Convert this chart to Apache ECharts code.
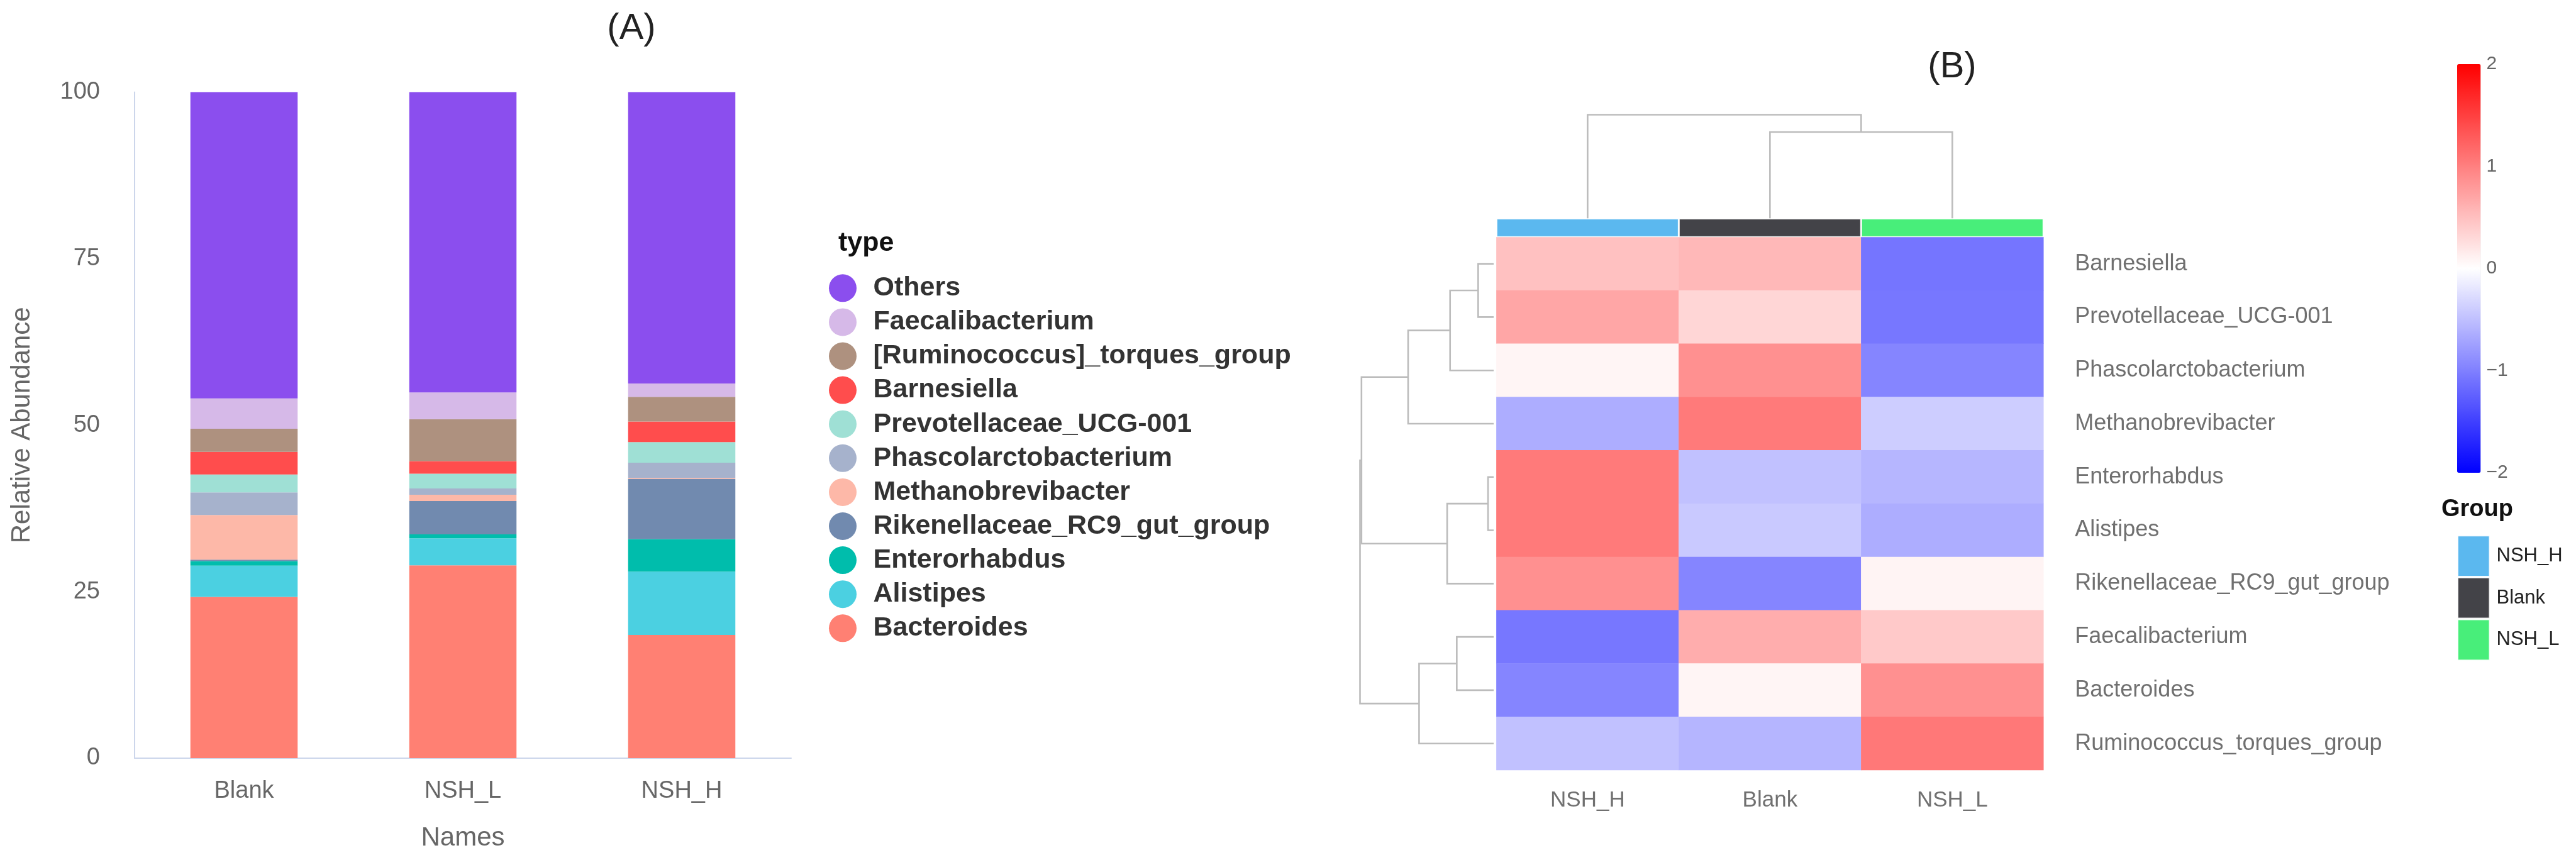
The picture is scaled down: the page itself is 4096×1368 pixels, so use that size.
<!DOCTYPE html>
<html><head><meta charset="utf-8">
<script src="https://cdn.jsdelivr.net/npm/echarts@6/dist/echarts.min.js"></script>
<style>html,body{margin:0;padding:0;background:#fff}#c{width:4096px;height:1368px}</style>
</head><body><div id="c"></div>
<script>
// ---------- Panel A data ----------
const groups = ['Blank', 'NSH_L', 'NSH_H'];
const stackOrder = ['Bacteroides', 'Alistipes', 'Enterorhabdus', 'Rikenellaceae_RC9_gut_group', 'Methanobrevibacter',
  'Phascolarctobacterium', 'Prevotellaceae_UCG-001', 'Barnesiella', '[Ruminococcus]_torques_group', 'Faecalibacterium', 'Others'];
const bacteroides = [24.2, 28.95, 18.5];
const alistipes = [4.7, 4.05, 9.5];
const enterorhabdus = [0.7, 0.6, 4.9];
const rikenellaceae = [0.2, 5.0, 9.0];
const methanobrevibacter = [6.7, 0.95, 0.15];
const phascolarctobacterium = [3.4, 0.95, 2.3];
const prevotellaceae = [2.7, 2.2, 3.1];
const barnesiella = [3.4, 1.9, 3.1];
const ruminococcus = [3.45, 6.3, 3.7];
const faecalibacterium = [4.55, 4.0, 2.0];
const others = [46.0, 45.1, 43.8];
const barValues = [bacteroides, alistipes, enterorhabdus, rikenellaceae, methanobrevibacter,
  phascolarctobacterium, prevotellaceae, barnesiella, ruminococcus, faecalibacterium, others];
const barColors = ['#FF8073', '#4BD0E1', '#00BDAC', '#718AAF', '#FDB8A8',
  '#A6B2CC', '#9FE0D5', '#FF4D4D', '#AE917F', '#D6B9E8', '#8B4EEE'];
const legendOrder = stackOrder.slice().reverse();
const yTicks = [0, 25, 50, 75, 100];

// ---------- Panel B data ----------
const heatCols = ['NSH_H', 'Blank', 'NSH_L'];
const heatRows = ['Barnesiella', 'Prevotellaceae_UCG-001', 'Phascolarctobacterium', 'Methanobrevibacter',
  'Enterorhabdus', 'Alistipes', 'Rikenellaceae_RC9_gut_group', 'Faecalibacterium', 'Bacteroides', 'Ruminococcus_torques_group'];
const heatValues = [
  [0.49, 0.56, -1.08],
  [0.70, 0.32, -1.07],
  [0.08, 0.87, -0.96],
  [-0.64, 1.04, -0.39],
  [1.04, -0.49, -0.57],
  [1.04, -0.42, -0.64],
  [0.87, -0.96, 0.09],
  [-1.07, 0.64, 0.42],
  [-0.96, 0.08, 0.87],
  [-0.49, -0.58, 1.06]
];
const groupColors = ['#5BB8EF', '#434348', '#48EE7A'];
// merges: [childA, childB, height]; child >= 0 is a leaf index, child < 0 is merge -(k+1)
const colMerges = [[1, 2, 5.0], [0, -1, 6.0]];
const rowMerges = [[0, 1, 1.16], [-1, 2, 3.26], [-2, 3, 6.40], [4, 5, 0.42], [-4, 6, 3.48],
  [-3, -5, 9.89], [7, 8, 2.76], [-7, 9, 5.58], [-6, -8, 10.0]];
const colorbarTicks = [-2, -1, 0, 1, 2];

// ---------- build ----------
const FONT = '"Liberation Sans", Arial, Helvetica, sans-serif';
function dendroItems(merges) {
  const pos = [], hgt = [], items = [];
  merges.forEach((m, i) => {
    const get = c => c >= 0 ? [c + 0.5, 0] : [pos[-c - 1], hgt[-c - 1]];
    const [pa, ha] = get(m[0]);
    const [pb, hb] = get(m[1]);
    pos[i] = (pa + pb) / 2; hgt[i] = m[2];
    items.push([pa, pb, m[2], ha, hb]);
  });
  return items;
}
const dendroStyle = { stroke: '#bcbcbc', lineWidth: 2.6, fill: null };

const series = [];
stackOrder.forEach((name, i) => {
  series.push({
    name, type: 'bar', stack: 'abund', xAxisIndex: 0, yAxisIndex: 0,
    barWidth: '49%', data: barValues[i], itemStyle: { color: barColors[i] }
  });
});
heatCols.forEach((g, j) => {
  series.push({
    name: g, type: 'bar', xAxisIndex: 1, yAxisIndex: 1, barWidth: '100%', barGap: '-100%',
    data: heatCols.map((c, k) => k === j ? 1 : '-'),
    itemStyle: { color: groupColors[j], borderColor: 'rgba(255,255,255,0.85)', borderWidth: 1.5 }
  });
});
const heatIndex = series.length;
const heatData = [];
heatRows.forEach((r, ri) => heatCols.forEach((c, ci) => heatData.push([ci, ri, heatValues[ri][ci]])));
series.push({ type: 'heatmap', xAxisIndex: 2, yAxisIndex: 2, data: heatData, emphasis: { disabled: true } });
series.push({
  type: 'custom', xAxisIndex: 3, yAxisIndex: 3, data: dendroItems(colMerges), silent: true,
  renderItem: (p, api) => ({
    type: 'polyline',
    shape: { points: [api.coord([api.value(0), api.value(3)]), api.coord([api.value(0), api.value(2)]),
      api.coord([api.value(1), api.value(2)]), api.coord([api.value(1), api.value(4)])] },
    style: dendroStyle
  })
});
series.push({
  type: 'custom', xAxisIndex: 4, yAxisIndex: 4, data: dendroItems(rowMerges), silent: true,
  renderItem: (p, api) => ({
    type: 'polyline',
    shape: { points: [api.coord([api.value(3), api.value(0)]), api.coord([api.value(2), api.value(0)]),
      api.coord([api.value(2), api.value(1)]), api.coord([api.value(4), api.value(1)])] },
    style: dendroStyle
  })
});

const grayAxisText = { fontFamily: FONT, color: '#666' };
const hidden = { show: false };
const option = {
  backgroundColor: '#fff',
  animation: false,
  textStyle: { fontFamily: FONT },
  grid: [
    { left: 214, top: 146.5, width: 1044, height: 1059.5 },
    { left: 2379.4, top: 347.4, width: 869.9, height: 29.8 },
    { left: 2379.4, top: 377.2, width: 869.9, height: 847.9 },
    { left: 2379.4, top: 182.5, width: 869.9, height: 164.9 },
    { left: 2162.5, top: 377.2, width: 212.5, height: 847.9 },
    { left: 3907, top: 102, width: 37.5, height: 650 }
  ],
  xAxis: [
    { type: 'category', gridIndex: 0, data: groups,
      axisLine: { lineStyle: { color: '#ccd6eb', width: 2 } }, axisTick: hidden,
      axisLabel: Object.assign({ fontSize: 38, margin: 34 }, grayAxisText),
      name: 'Names', nameLocation: 'middle', nameGap: 106,
      nameTextStyle: Object.assign({ fontSize: 42 }, grayAxisText) },
    { type: 'category', gridIndex: 1, data: heatCols, show: false },
    { type: 'category', gridIndex: 2, data: heatCols, axisLine: hidden, axisTick: hidden,
      axisLabel: { fontSize: 35, margin: 31, color: '#707070', fontFamily: FONT } },
    { type: 'value', gridIndex: 3, min: 0, max: 3, show: false },
    { type: 'value', gridIndex: 4, min: 0, max: 10, inverse: true, show: false },
    { type: 'value', gridIndex: 5, min: 0, max: 1, show: false }
  ],
  yAxis: [
    { type: 'value', gridIndex: 0, min: 0, max: 100, interval: 25,
      axisLine: { show: true, lineStyle: { color: '#ccd6eb', width: 2 } }, axisTick: hidden, splitLine: hidden,
      axisLabel: Object.assign({ fontSize: 38, margin: 55, customValues: yTicks }, grayAxisText),
      name: 'Relative Abundance', nameLocation: 'middle', nameGap: 158,
      nameTextStyle: Object.assign({ fontSize: 42 }, grayAxisText) },
    { type: 'value', gridIndex: 1, min: 0, max: 1, show: false },
    { type: 'category', gridIndex: 2, data: heatRows, inverse: true, position: 'right',
      axisLine: hidden, axisTick: hidden,
      axisLabel: { fontSize: 36, margin: 50, color: '#707070', fontFamily: FONT } },
    { type: 'value', gridIndex: 3, min: 0, max: 6, show: false },
    { type: 'value', gridIndex: 4, min: 0, max: 10, inverse: true, show: false },
    { type: 'value', gridIndex: 5, min: -2, max: 2, interval: 1, position: 'right',
      axisLine: hidden, axisTick: hidden, splitLine: hidden,
      axisLabel: { fontSize: 30, margin: 9, color: '#666', fontFamily: FONT,
        formatter: v => String(v).replace('-', '\u2212') } }
  ],
  visualMap: [{
    type: 'continuous', min: -2, max: 2, seriesIndex: heatIndex, orient: 'vertical',
    left: 3907, top: 102, itemWidth: 37.5, itemHeight: 650, calculable: false, padding: 0,
    text: null, hoverLink: false,
    inRange: { color: ['#0000FF', '#FFFFFF', '#FF0000'] }
  }],
  legend: [
    { data: legendOrder, orient: 'vertical', left: 1318, top: 436.3, padding: 0,
      itemWidth: 87, itemHeight: 44, itemGap: 10.1, icon: 'circle', selectedMode: false,
      textStyle: { fontSize: 43, fontWeight: 'bold', color: '#333', fontFamily: FONT, lineHeight: 44 } },
    { data: heatCols, orient: 'vertical', left: 3907, top: 851.2, padding: 0,
      itemWidth: 50.5, itemHeight: 64.7, itemGap: 0, icon: 'rect', selectedMode: false,
      textStyle: { fontSize: 31, color: '#222', fontFamily: FONT, padding: [0, 0, 0, 6] } }
  ],
  graphic: [
    { type: 'text', left: 'auto', x: 1004, y: 45.5, style: { text: '(A)', fontSize: 58, fill: '#222', font: '58px ' + FONT, textAlign: 'center', textVerticalAlign: 'middle' } },
    { type: 'text', x: 3104, y: 107, style: { text: '(B)', fill: '#222', font: '58px ' + FONT, textAlign: 'center', textVerticalAlign: 'middle' } },
    { type: 'text', x: 1333, y: 387, style: { text: 'type', fill: '#111', font: 'bold 43px ' + FONT, textAlign: 'left', textVerticalAlign: 'middle' } },
    { type: 'text', x: 3882, y: 810.4, style: { text: 'Group', fill: '#111', font: 'bold 38px ' + FONT, textAlign: 'left', textVerticalAlign: 'middle' } }
  ],
  series
};
const chart = echarts.init(document.getElementById('c'), null, { renderer: 'canvas' });
chart.setOption(option);
</script>
</body></html>
